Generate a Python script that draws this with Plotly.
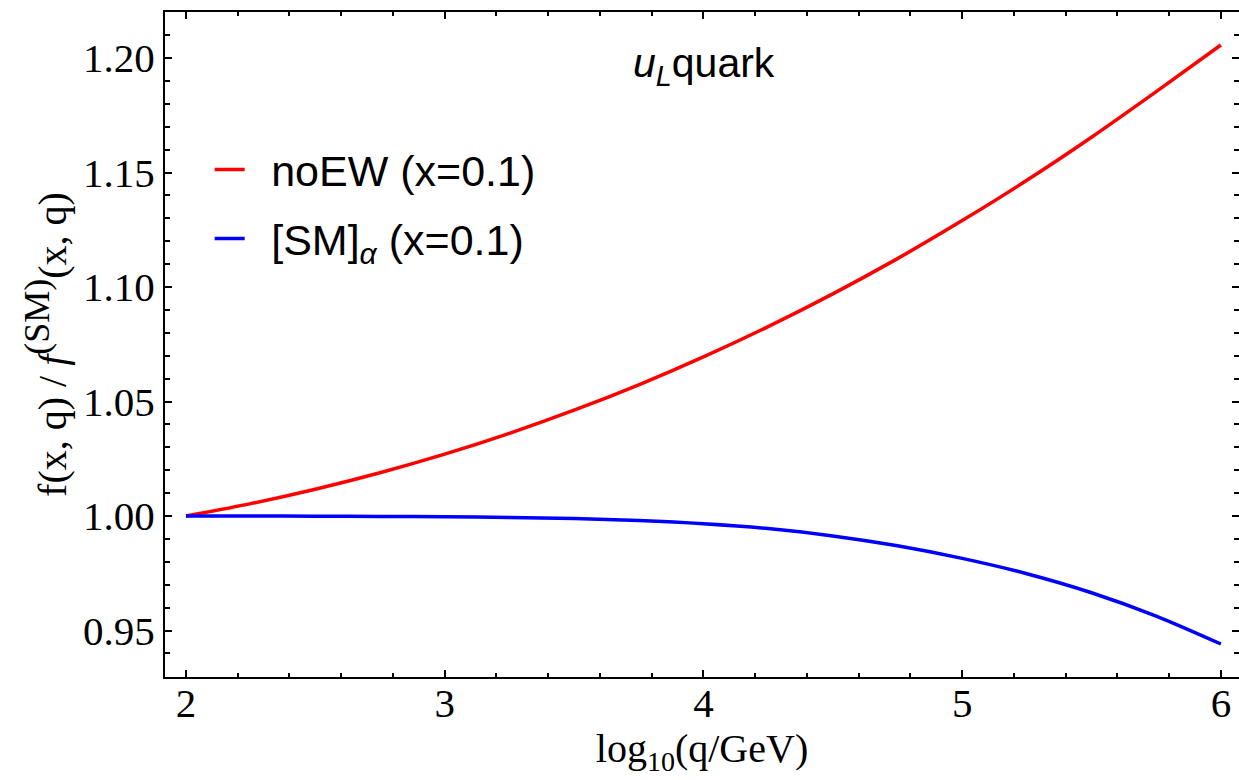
import plotly.graph_objects as go

# log10(q/GeV) sample points
log_q = [2.0, 2.25, 2.5, 2.75, 3.0, 3.25, 3.5, 3.75, 4.0,
         4.25, 4.5, 4.75, 5.0, 5.25, 5.5, 5.75, 6.0]

# PDF ratio f(x,q)/f^(SM)(x,q) for the u_L quark at x = 0.1
ratio_noew = [1.0000, 1.0054, 1.0117, 1.0189, 1.0270, 1.0361, 1.0462, 1.0573, 1.0695,
              1.0827, 1.0970, 1.1124, 1.1290, 1.1466, 1.1654, 1.1853, 1.2057]
ratio_sm_alpha = [1.0000, 1.0000, 0.9999, 0.9998, 0.9997, 0.9994, 0.9989, 0.9980, 0.9966,
                  0.9945, 0.9913, 0.9870, 0.9815, 0.9748, 0.9665, 0.9563, 0.9441]

x_tick_vals = [2, 3, 4, 5, 6]
x_tick_text = ["2", "3", "4", "5", "6"]
y_tick_vals = [0.95, 1.00, 1.05, 1.10, 1.15, 1.20]
y_tick_text = ["0.95", "1.00", "1.05", "1.10", "1.15", "1.20"]

SERIF = "Liberation Serif"
SANS = "Liberation Sans"

fig = go.Figure()
fig.add_trace(go.Scatter(
    x=log_q, y=ratio_noew, mode="lines",
    line=dict(color="#ff0000", width=3.5, shape="spline", smoothing=0.8),
    name="\u2002noEW (x=0.1)", legendgroup="noew",
))
fig.add_trace(go.Scatter(
    x=log_q, y=ratio_sm_alpha, mode="lines",
    line=dict(color="#0000ff", width=3.5, shape="spline", smoothing=0.8),
    name="\u2002[SM]<sub><i>\u03b1</i></sub> (x=0.1)", legendgroup="sm",
))

axis_common = dict(
    showline=True, linecolor="black", linewidth=2, mirror="allticks",
    ticks="inside", ticklen=7, tickwidth=2, tickcolor="black",
    showgrid=False, zeroline=False,
    tickfont=dict(family=SERIF, size=41, color="black"),
)

fig.update_xaxes(
    range=[1.919, 6.07],
    tickvals=x_tick_vals, ticktext=x_tick_text,
    ticklabelstandoff=-11,
    minor=dict(dtick=0.2, tick0=2, ticks="inside", ticklen=4, tickwidth=2, tickcolor="black"),
    title=dict(text="log<sub>10</sub>(q/GeV)", font=dict(family=SERIF, size=40, color="black"),
               standoff=4),
    **axis_common,
)
fig.update_yaxes(
    range=[0.9297, 1.2201],
    tickvals=y_tick_vals, ticktext=y_tick_text,
    minor=dict(dtick=0.01, tick0=0.95, ticks="inside", ticklen=5, tickwidth=2, tickcolor="black"),
    title=dict(text="f(x, q) / <i>f</i><sup><span style=\"font-size:36px\">(SM)</span></sup>(x, q)",
               font=dict(family=SERIF, size=40, color="black"), standoff=4),
    **axis_common,
)

fig.add_annotation(
    text="<i>u</i><sub><i>L</i></sub>quark",
    xref="paper", yref="paper", x=0.502, y=0.919,
    xanchor="center", yanchor="middle", showarrow=False,
    font=dict(family=SANS, size=41, color="black"),
)

fig.update_layout(
    width=1239, height=780,
    margin=dict(l=165, r=0, t=12, b=103, autoexpand=False),
    paper_bgcolor="white", plot_bgcolor="white",
    showlegend=True,
    legend=dict(
        x=0.0416, y=0.815, xanchor="left", yanchor="top",
        bgcolor="rgba(0,0,0,0)", borderwidth=0,
        font=dict(family=SANS, size=43, color="black"),
        traceorder="grouped", tracegroupgap=10,
    ),
)

fig.write_html("out.html")
